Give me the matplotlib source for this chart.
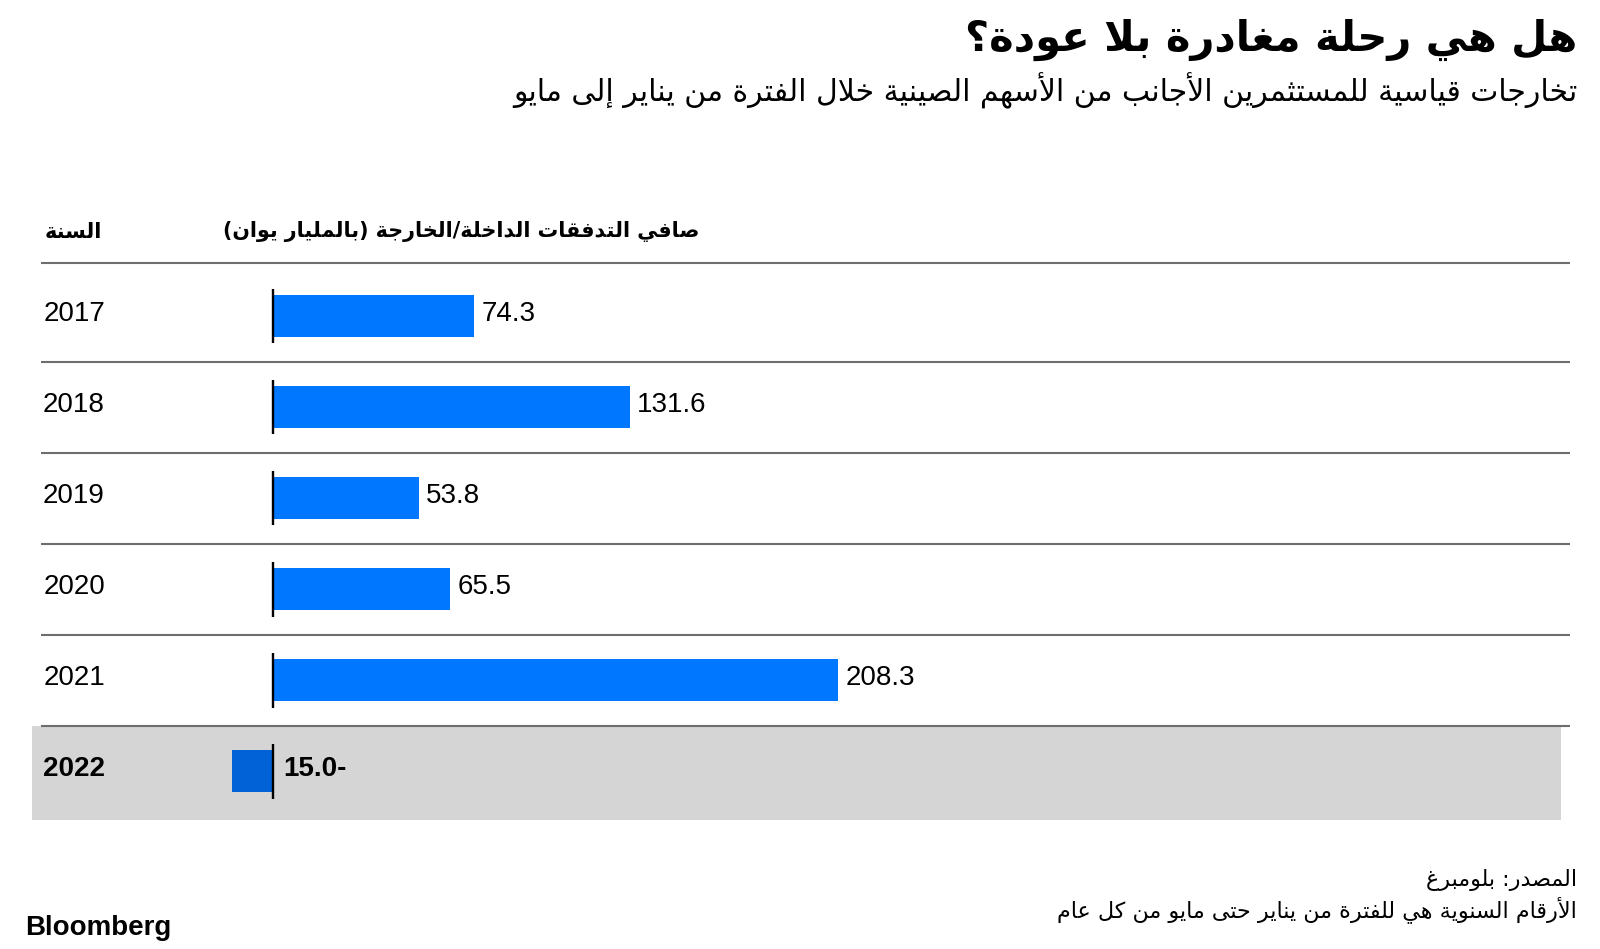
import numpy as np
import matplotlib
matplotlib.use("Agg")
import matplotlib.pyplot as plt

# ---- data ----
years = ["2017", "2018", "2019", "2020", "2021", "2022"]
flows = [74.3, 131.6, 53.8, 65.5, 208.3, -15.0]
highlight = "2022"

title = "هل هي رحلة مغادرة بلا عودة؟"
subtitle = "تخارجات قياسية للمستثمرين الأجانب من الأسهم الصينية خلال الفترة من يناير إلى مايو"
col_year = "السنة"
col_value = "صافي التدفقات الداخلة/الخارجة (بالمليار يوان)"
source = "المصدر: بلومبرغ"
note = "الأرقام السنوية هي للفترة من يناير حتى مايو من كل عام"


# ---- tiny arabic shaper (matplotlib has no shaping / bidi) ----
# letter -> (first presentation form, number of forms)  forms: iso, fin, ini, med
AR = {
    'ء': (0xFE80, 1), 'آ': (0xFE81, 2), 'أ': (0xFE83, 2), 'ؤ': (0xFE85, 2),
    'إ': (0xFE87, 2), 'ئ': (0xFE89, 4), 'ا': (0xFE8D, 2), 'ب': (0xFE8F, 4),
    'ة': (0xFE93, 2), 'ت': (0xFE95, 4), 'ث': (0xFE99, 4), 'ج': (0xFE9D, 4),
    'ح': (0xFEA1, 4), 'خ': (0xFEA5, 4), 'د': (0xFEA9, 2), 'ذ': (0xFEAB, 2),
    'ر': (0xFEAD, 2), 'ز': (0xFEAF, 2), 'س': (0xFEB1, 4), 'ش': (0xFEB5, 4),
    'ص': (0xFEB9, 4), 'ض': (0xFEBD, 4), 'ط': (0xFEC1, 4), 'ظ': (0xFEC5, 4),
    'ع': (0xFEC9, 4), 'غ': (0xFECD, 4), 'ف': (0xFED1, 4), 'ق': (0xFED5, 4),
    'ك': (0xFED9, 4), 'ل': (0xFEDD, 4), 'م': (0xFEE1, 4), 'ن': (0xFEE5, 4),
    'ه': (0xFEE9, 4), 'و': (0xFEED, 2), 'ى': (0xFEEF, 2), 'ي': (0xFEF1, 4),
}
LAMALEF = {'آ': 0xFEF5, 'أ': 0xFEF7, 'إ': 0xFEF9, 'ا': 0xFEFB}


def ar(s):
    items = []
    i = 0
    while i < len(s):
        if s[i] == 'ل' and i + 1 < len(s) and s[i + 1] in LAMALEF:
            items.append(('LA', s[i + 1]))
            i += 2
        else:
            items.append(s[i])
            i += 1

    def joins_next(it):
        return not isinstance(it, tuple) and it in AR and AR[it][1] == 4

    def is_letter(it):
        return isinstance(it, tuple) or (it in AR and AR[it][1] > 1)

    out = []
    for k, it in enumerate(items):
        prev = items[k - 1] if k > 0 else None
        nxt = items[k + 1] if k + 1 < len(items) else None
        jp = prev is not None and joins_next(prev) and is_letter(it)
        if isinstance(it, tuple):
            out.append(chr(LAMALEF[it[1]] + (1 if jp else 0)))
            continue
        if it not in AR:
            out.append(it)
            continue
        start, n = AR[it]
        jn = n == 4 and nxt is not None and is_letter(nxt)
        if n == 1:
            f = 0
        elif n == 2:
            f = 1 if jp else 0
        else:
            f = 3 if (jp and jn) else 1 if jp else 2 if jn else 0
        out.append(chr(start + f))
    mirror = {'(': ')', ')': '('}
    return ''.join(mirror.get(c, c) for c in reversed(out))


# ---- layout (pixels of the 1600x949 canvas) ----
W, H = 1600, 949
zero_px = 272.5
ppu = 2.717          # pixels per billion yuan
row0, row_h = 316, 91.07
ax_l, ax_r, ax_t, ax_b = 32, 1570, 263, 820
txt_dy = -0.025      # labels sit a touch above bar centre

AR_FONT = ['DejaVu Sans']
NUM_FONT = ['Liberation Sans', 'DejaVu Sans']

fig = plt.figure(figsize=(W / 100, H / 100), dpi=100)
fig.patch.set_facecolor('white')

ax = fig.add_axes([ax_l / W, 1 - ax_b / H, (ax_r - ax_l) / W, (ax_b - ax_t) / H])
ax.set_xlim((ax_l - zero_px) / ppu, (ax_r - zero_px) / ppu)
ax.set_ylim((ax_b - row0) / row_h, (ax_t - row0) / row_h)
ax.axis('off')

n = len(years)
y = np.arange(n)
hi = years.index(highlight)

# grey band for the current year
ax.axhspan(hi - 0.493, (ax_b - row0) / row_h, xmin=0, xmax=(1561 - ax_l) / (ax_r - ax_l),
           color='#d5d5d5', zorder=0, lw=0)

# separators
seps = [(ax_t - row0) / row_h] + [i + 0.507 for i in range(n - 1)]
ax.hlines(seps, (41 - ax_l) / (ax_r - ax_l), 1.0, transform=ax.get_yaxis_transform(),
          color='#6e6e6e', lw=1.5, zorder=1, clip_on=False)

colors = ['#0062d6' if yr == highlight else '#0077ff' for yr in years]
ax.barh(y, flows, height=0.46, color=colors, zorder=2)
ax.vlines(np.zeros(n), y - 0.3, y + 0.3, color='black', lw=1.7, zorder=3)

for i, (yr, v) in enumerate(zip(years, flows)):
    bold = 'bold' if yr == highlight else 'normal'
    ax.text((74 - zero_px) / ppu, i + txt_dy, yr, ha='center', va='center', fontsize=20,
            family=NUM_FONT, weight=bold)
    if v >= 0:
        ax.text(v + 7 / ppu, i + txt_dy, f"{v:.1f}", ha='left', va='center', fontsize=20,
                family=NUM_FONT, weight=bold)
    else:
        ax.text(11 / ppu, i + txt_dy, f"{abs(v):.1f}-", ha='left', va='center', fontsize=20,
                family=NUM_FONT, weight=bold)

# titles and headers
fig.text(1577 / W, 1 - 40 / H, ar(title), ha='right', va='center', fontsize=30,
         weight='bold', family=AR_FONT)
fig.text(1577 / W, 1 - 91 / H, ar(subtitle), ha='right', va='center', fontsize=21.5,
         family=AR_FONT)
fig.text(102 / W, 1 - 232 / H, ar(col_year), ha='right', va='center', fontsize=15,
         weight='bold', family=AR_FONT)
fig.text(699 / W, 1 - 232 / H, ar(col_value), ha='right', va='center', fontsize=14.9,
         weight='bold', family=AR_FONT)

# footer
fig.text(1577 / W, 1 - 880 / H, ar(source), ha='right', va='center', fontsize=16,
         family=AR_FONT)
fig.text(1577 / W, 1 - 910 / H, ar(note), ha='right', va='center', fontsize=16,
         family=AR_FONT)
fig.text(25 / W, 1 - 928 / H, "Bloomberg", ha='left', va='center', fontsize=20,
         weight='bold', family=NUM_FONT)

fig.savefig("out.png", dpi=100)
